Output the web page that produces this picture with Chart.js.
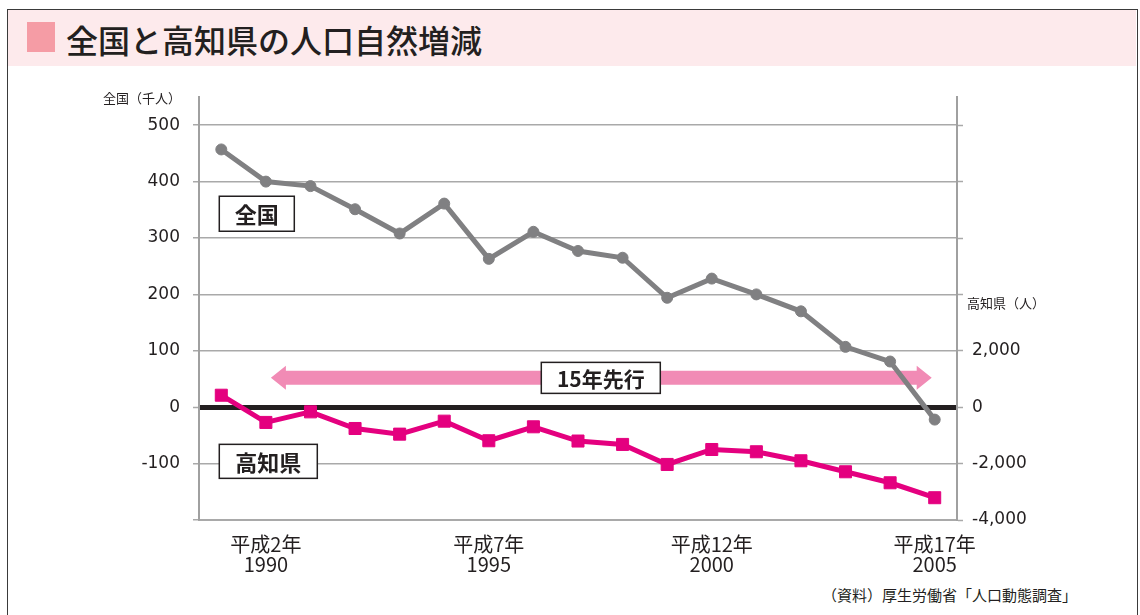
<!DOCTYPE html>
<html lang="ja">
<head>
<meta charset="utf-8">
<script src="https://cdn.jsdelivr.net/npm/chart.js@4"></script>
<style>
  html, body { margin: 0; padding: 0; background: #fff; overflow: hidden; }
  #wrap { position: relative; width: 1140px; height: 615px; }
  #frame { position: absolute; left: 7px; top: 9px; width: 1129px; height: 700px; border: 1px solid #3a3a3a; }
  #band { position: absolute; left: 8px; top: 10px; width: 1128px; height: 56px; background: #fdeaec; }
  #sq { position: absolute; left: 27px; top: 22px; width: 28px; height: 30px; background: #f59ca5; }
  #title { position: absolute; left: 66px; top: 17px; font: 500 32px "Noto Sans CJK JP", sans-serif; color: #231f20; line-height: 44px; white-space: nowrap; }
  #src { position: absolute; right: 63px; top: 584px; font: 15px "Noto Sans CJK JP", sans-serif; color: #231f20; white-space: nowrap; }
  canvas { position: absolute; left: 0; top: 0; }
</style>
</head>
<body>
<div id="wrap">
  <div id="frame"></div>
  <div id="band"></div>
  <div id="sq"></div>
  <div id="title">全国と高知県の人口自然増減</div>
  <div id="src">（資料）厚生労働省「人口動態調査」</div>
  <canvas id="c" width="1140" height="615"></canvas>
</div>
<script>
// ---- data ----
const years = [1989,1990,1991,1992,1993,1994,1995,1996,1997,1998,1999,2000,2001,2002,2003,2004,2005];
const tickYears = [1990, 1995, 2000, 2005];
const tickEras = ['平成2年', '平成7年', '平成12年', '平成17年'];
const national = [457,400,392,351,308,361,263,311,277,265,194,228,200,170,107,81,-22];   // 千人
const kochi = [425,-540,-165,-755,-955,-495,-1190,-695,-1200,-1320,-2030,-1500,-1580,-1900,-2290,-2680,-3210]; // 人
const leftTicks = [-200, -100, 0, 100, 200, 300, 400, 500];
const leftLabelMin = -100;
const rightTicks = [-4000, -2000, 0, 2000, 4000, 6000, 8000, 10000];
const rightLabelMax = 2000;
const nationalName = '全国';
const kochiName = '高知県';
const leftAxisTitle = '全国（千人）';
const rightAxisTitle = '高知県（人）';
const arrowFrom = 1990, arrowTo = 2005, arrowLevel = 52, arrowText = '15年先行';
const nationalLabelLevel = 343, kochiLabelLevel = -96;

const CJK = '"Noto Sans CJK JP", sans-serif';
const NUM = '"DejaVu Sans", "Noto Sans CJK JP", sans-serif';
const TXT = '#231f20';
const GRID = '#a9a9a9';

function boxLabel(ctx, text, left, cy, w, h, font) {
  ctx.save();
  ctx.fillStyle = '#fff';
  ctx.strokeStyle = '#231f20';
  ctx.lineWidth = 1.5;
  ctx.fillRect(left, cy - h / 2, w, h);
  ctx.strokeRect(left, cy - h / 2, w, h);
  ctx.fillStyle = TXT;
  ctx.font = font;
  ctx.textAlign = 'center';
  ctx.textBaseline = 'middle';
  ctx.fillText(text, left + w / 2, cy + 1);
  ctx.restore();
}

const decor = {
  id: 'decor',
  beforeDatasetsDraw(chart) {
    const ctx = chart.ctx, xs = chart.scales.x, ys = chart.scales.y;
    const xa = xs.getPixelForValue(years.indexOf(arrowFrom)) + 5;
    const xb = xs.getPixelForValue(years.indexOf(arrowTo)) - 3;
    const y = ys.getPixelForValue(arrowLevel);
    const sh = 7, hh = 12, hl = 15;
    ctx.save();
    ctx.fillStyle = '#f18bb5';
    ctx.beginPath();
    ctx.moveTo(xa, y);
    ctx.lineTo(xa + hl, y - hh);
    ctx.lineTo(xa + hl, y - sh);
    ctx.lineTo(xb - hl, y - sh);
    ctx.lineTo(xb - hl, y - hh);
    ctx.lineTo(xb, y);
    ctx.lineTo(xb - hl, y + hh);
    ctx.lineTo(xb - hl, y + sh);
    ctx.lineTo(xa + hl, y + sh);
    ctx.lineTo(xa + hl, y + hh);
    ctx.closePath();
    ctx.fill();
    ctx.restore();
    const mid = (xs.getPixelForValue(years.indexOf(arrowFrom)) + xs.getPixelForValue(years.indexOf(arrowTo))) / 2;
    boxLabel(ctx, arrowText, mid - 59, y, 119, 31, 'bold 21px ' + CJK);
    const x0 = xs.getPixelForValue(0) - 2;
    boxLabel(ctx, nationalName, x0, ys.getPixelForValue(nationalLabelLevel), 75, 35, 'bold 22px ' + CJK);
    boxLabel(ctx, kochiName, x0, ys.getPixelForValue(kochiLabelLevel), 98, 34, 'bold 22px ' + CJK);
  },
  afterDraw(chart) {
    const ctx = chart.ctx, ca = chart.chartArea, y1 = chart.scales.y1;
    ctx.save();
    ctx.fillStyle = TXT;
    ctx.font = '13px ' + CJK;
    ctx.textBaseline = 'middle';
    ctx.textAlign = 'right';
    ctx.fillText(leftAxisTitle, ca.left - 18, 98);
    ctx.textAlign = 'left';
    ctx.fillText(rightAxisTitle, ca.right + 10, y1.getPixelForValue(4000) + 9);
    ctx.restore();
  }
};

new Chart(document.getElementById('c'), {
  type: 'line',
  data: {
    labels: years,
    datasets: [
      {
        label: nationalName, data: national, yAxisID: 'y',
        borderColor: '#808082', backgroundColor: '#808082', borderWidth: 5,
        pointStyle: 'circle', pointRadius: 5.5, pointBorderWidth: 1,
        pointBackgroundColor: '#808082', pointBorderColor: '#808082', tension: 0
      },
      {
        label: kochiName, data: kochi, yAxisID: 'y1',
        borderColor: '#e4007f', backgroundColor: '#e4007f', borderWidth: 5,
        pointStyle: 'rect', pointRadius: 8.5, pointBorderWidth: 1,
        pointBackgroundColor: '#e4007f', pointBorderColor: '#e4007f', tension: 0
      }
    ]
  },
  options: {
    responsive: false, devicePixelRatio: 1, animation: false,
    layout: { padding: { top: 97, left: 0, right: 0, bottom: 0 } },
    plugins: { legend: { display: false }, tooltip: { enabled: false }, title: { display: false } },
    scales: {
      x: {
        offset: true,
        grid: { display: false, drawTicks: false },
        border: { display: true, color: GRID, width: 2 },
        afterFit(s) { s.height = 95; },
        ticks: {
          autoSkip: false, maxRotation: 0, minRotation: 0, padding: 14,
          color: TXT, font: { family: CJK, size: 20, lineHeight: 1.0 },
          callback(v, i) {
            const k = tickYears.indexOf(years[i]);
            return k >= 0 ? [tickEras[k], String(tickYears[k])] : '';
          }
        }
      },
      y: {
        position: 'left', min: -200, max: 550,
        afterFit(s) { s.width = 199; },
        afterBuildTicks(s) { s.ticks = leftTicks.map(v => ({ value: v })); },
        border: { display: true, color: '#a0a0a0', width: 2 },
        grid: {
          color: c => (c.tick && c.tick.value === 0) ? '#231f20' : GRID,
          lineWidth: c => (c.tick && c.tick.value === 0) ? 5 : 1.5,
          tickColor: GRID, tickWidth: 1.5, tickLength: 6, drawTicks: true
        },
        ticks: {
          autoSkip: false, padding: 13, color: TXT, font: { family: NUM, size: 17 },
          callback: v => (v >= leftLabelMin ? String(v) : '')
        }
      },
      y1: {
        position: 'right', min: -4000, max: 11000,
        afterFit(s) { s.width = 183; },
        afterBuildTicks(s) { s.ticks = rightTicks.map(v => ({ value: v })); },
        border: { display: true, color: '#a0a0a0', width: 2 },
        grid: { drawOnChartArea: false, color: GRID, tickColor: GRID, tickWidth: 1.5, tickLength: 6 },
        ticks: {
          autoSkip: false, padding: 9, color: TXT, font: { family: NUM, size: 17 },
          callback: v => (v <= rightLabelMax ? v.toLocaleString('en-US') : '')
        }
      }
    }
  },
  plugins: [decor]
});
</script>
</body>
</html>
